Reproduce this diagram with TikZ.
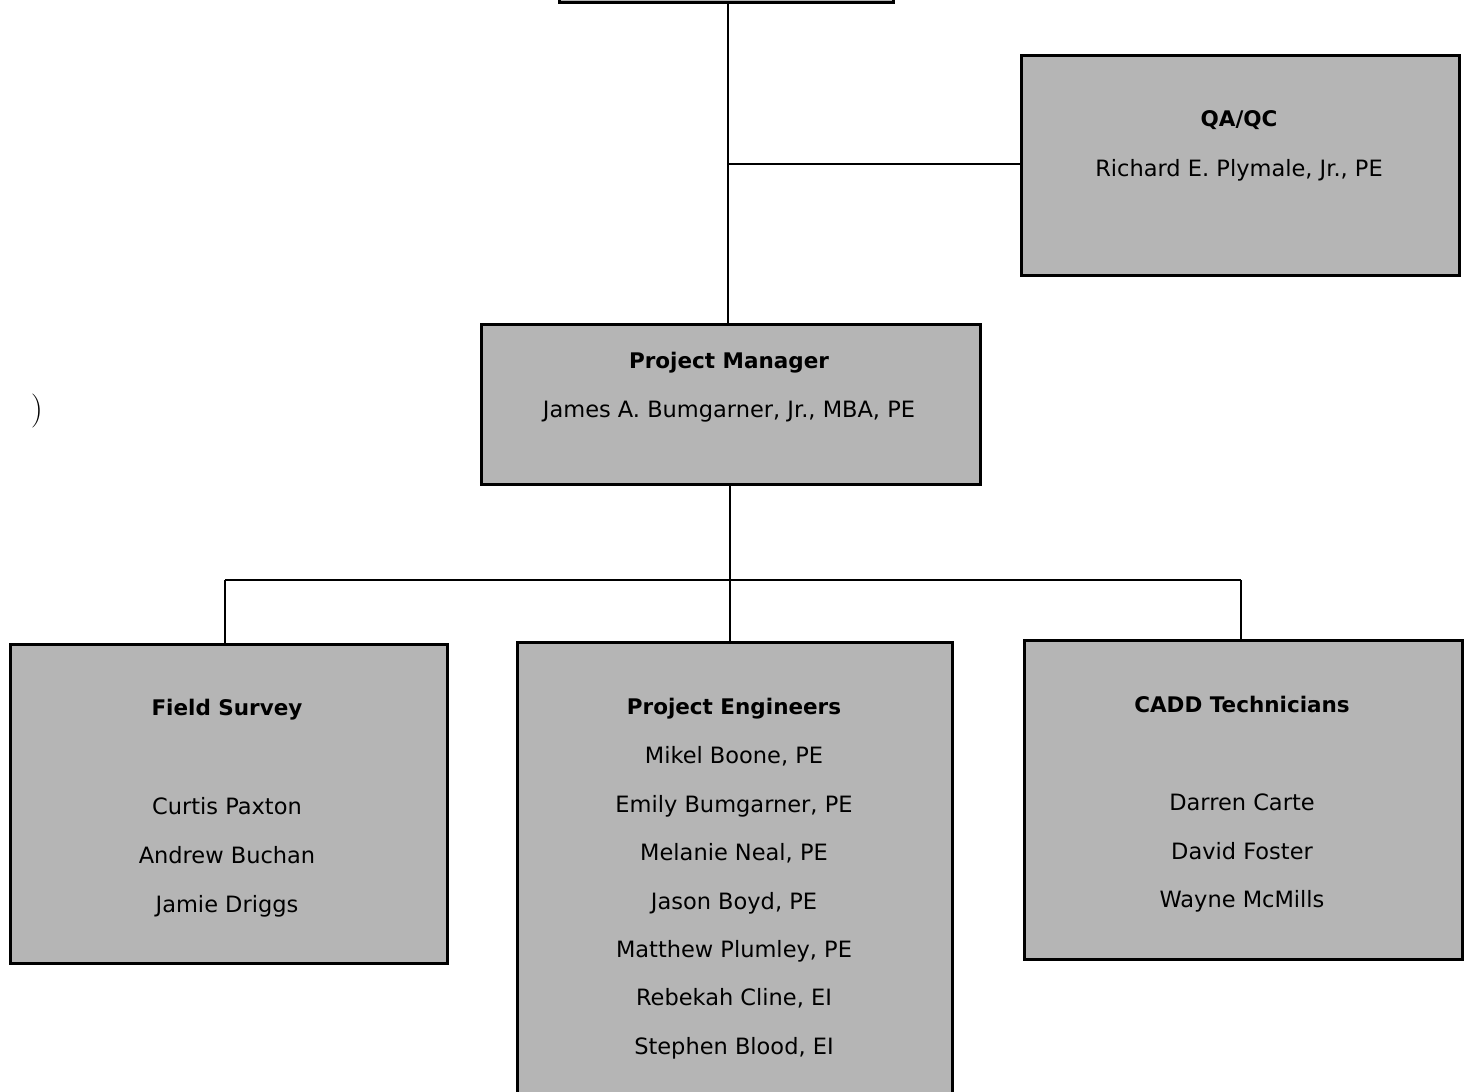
\documentclass[tikz,border=0pt]{standalone}
\usepackage{fontspec}
\setmainfont{DejaVu Sans}
\definecolor{boxfill}{gray}{0.71}
\tikzset{
  orgbox/.style={draw=black, line width=2.8pt, fill=boxfill, inner sep=0pt, anchor=north west},
  conn/.style={draw=black, line width=2.8pt},
  lbl/.style={inner sep=0pt, font=\fontsize{22.5}{26}\selectfont, anchor=base},
  ttl/.style={inner sep=0pt, font=\fontsize{21.5}{26}\selectfont\bfseries, anchor=base}
}
\begin{document}
\begin{tikzpicture}[x=1pt,y=-1pt]
\useasboundingbox (0,0) rectangle (1468,1092);
\clip (0,0) rectangle (1468,1092);
\fill[white] (0,0) rectangle (1468,1092);
% boxes
\node[orgbox, minimum width=334pt, minimum height=60pt] (top) at (558,-59) {};
\node[orgbox, minimum width=438pt, minimum height=220pt] (qa) at (1020,54) {};
\node[orgbox, minimum width=499pt, minimum height=160pt] (pm) at (480,323) {};
\node[orgbox, minimum width=437pt, minimum height=319pt] (fs) at (9,643) {};
\node[orgbox, minimum width=435pt, minimum height=480pt] (pe) at (516,641) {};
\node[orgbox, minimum width=438pt, minimum height=319pt] (cadd) at (1023,639) {};
% connectors
\coordinate (j1) at (728,164);
\coordinate (j2) at (730,580);
\coordinate (jl) at (225,580);
\coordinate (jr) at (1241,580);
\draw[conn] (top.south -| j1) -- (pm.north -| j1);
\draw[conn] (j1) -- (qa.west |- j1);
\draw[conn] (pm.south -| j2) -- (j2);
\draw[conn] (jl) -- (jr);
\draw[conn] (jl) -- (fs.north -| jl);
\draw[conn] (j2) -- (pe.north -| j2);
\draw[conn] (jr) -- (cadd.north -| jr);
% texts (baselines)
\node[ttl] (qat) at (1239,126) {QA/QC};
\node[lbl] (qan) at (1239,176) {Richard E. Plymale, Jr., PE};
\node[ttl] (pmt) at (729,368) {Project Manager};
\node[lbl] (pmn) at (729,417) {James A. Bumgarner, Jr., MBA, PE};
\node[ttl] (fst) at (227,715) {Field Survey};
\node[lbl] (fs1) at (227,814) {Curtis Paxton};
\node[lbl] (fs2) at (227,863) {Andrew Buchan};
\node[lbl] (fs3) at (227,912) {Jamie Driggs};
\node[ttl] (pet) at (734,714) {Project Engineers};
\node[lbl] (pe1) at (734,763) {Mikel Boone, PE};
\node[lbl] (pe2) at (734,812) {Emily Bumgarner, PE};
\node[lbl] (pe3) at (734,860) {Melanie Neal, PE};
\node[lbl] (pe4) at (734,909) {Jason Boyd, PE};
\node[lbl] (pe5) at (734,957) {Matthew Plumley, PE};
\node[lbl] (pe6) at (734,1005) {Rebekah Cline, EI};
\node[lbl] (pe7) at (734,1054) {Stephen Blood, EI};
\node[ttl] (cat) at (1242,712) {CADD Technicians};
\node[lbl] (ca1) at (1242,810) {Darren Carte};
\node[lbl] (ca2) at (1242,859) {David Foster};
\node[lbl] (ca3) at (1242,907) {Wayne McMills};
\node[inner sep=0pt, font=\fontspec{Latin Modern Roman}\fontsize{34}{38}\selectfont] (par) at (37,411) {)};
\end{tikzpicture}
\end{document}
